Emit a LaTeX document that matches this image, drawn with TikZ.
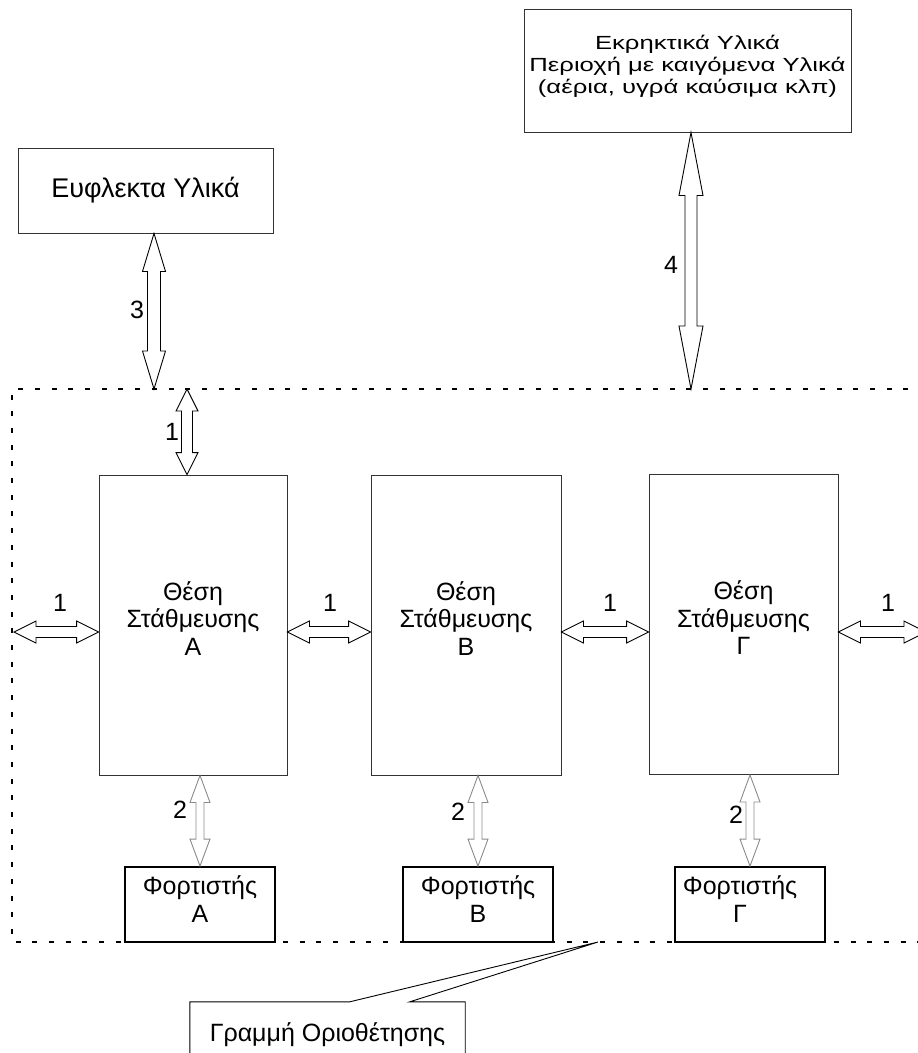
\documentclass[tikz,border=0pt]{standalone}
\usepackage{fontspec}
\setmainfont{Liberation Sans}
\newfontfamily\widefont[FakeStretch=1.35]{Liberation Sans}
\usetikzlibrary{calc}
\definecolor{lineDark}{HTML}{333333}
\definecolor{lineGrey}{HTML}{8A8A8A}
\newcommand{\rpad}[1]{\rule{#1}{0pt}}
\tikzset{
  box/.style={rectangle, draw=lineDark, line width=0.9pt, align=center, inner sep=0pt},
  hazard/.style={box, minimum width=327pt, minimum height=123pt, text depth=12pt,
    font=\widefont\fontsize{19}{22}\selectfont},
  flammable/.style={box, minimum width=255pt, minimum height=85pt,
    font=\fontsize{27}{30}\selectfont},
  station/.style={box, minimum width=188pt, minimum height=300pt, text depth=13pt,
    font=\fontsize{25}{27.5}\selectfont},
  charger/.style={rectangle, draw=black, line width=1.8pt, inner sep=0pt,
    minimum width=150pt, minimum height=75pt, align=center, text depth=11pt,
    font=\fontsize{25}{28}\selectfont},
  note/.style={inner sep=0pt, minimum width=275pt, minimum height=66pt,
    font=\fontsize{25}{28}\selectfont},
  num/.style={inner sep=0pt, font=\fontsize{25}{28}\selectfont},
  border/.style={line width=2pt, dash pattern=on 5pt off 11.7pt},
  callout/.style={draw=black, line width=0.9pt},
  dbl/.style n args={3}{line width=0.9pt, line join=miter, to path={
    -- ($(\tikztostart)!#1!(\tikztotarget)!#2!90:(\tikztotarget)$)
    -- ($(\tikztostart)!#1!(\tikztotarget)!#3!90:(\tikztotarget)$)
    -- ($(\tikztotarget)!#1!(\tikztostart)!#3!-90:(\tikztostart)$)
    -- ($(\tikztotarget)!#1!(\tikztostart)!#2!-90:(\tikztostart)$)
    -- (\tikztotarget)
    -- ($(\tikztotarget)!#1!(\tikztostart)!#2!90:(\tikztostart)$)
    -- ($(\tikztotarget)!#1!(\tikztostart)!#3!90:(\tikztostart)$)
    -- ($(\tikztostart)!#1!(\tikztotarget)!#3!-90:(\tikztotarget)$)
    -- ($(\tikztostart)!#1!(\tikztotarget)!#2!-90:(\tikztotarget)$)
    -- cycle}},
  bigArrow/.style={draw=black, dbl={63pt}{12pt}{6pt}},
  midArrow/.style={draw=black, dbl={38pt}{11.5pt}{6.5pt}},
  smallArrow/.style={draw=black, dbl={22pt}{11pt}{5.5pt}},
  greyArrow/.style={draw=lineGrey, dbl={27pt}{10pt}{4pt}},
}

\begin{document}
\begin{tikzpicture}[x=1pt, y=-1pt]
  \useasboundingbox (0,0) rectangle (918,1053);

  \node[hazard] (ekr) at (687.5,70.5) {Εκρηκτικά Υλικά\\Περιοχή με καιγόμενα Υλικά\\(αέρια, υγρά καύσιμα κλπ)};
  \node[flammable] (euf) at (145.5,190.5) {Ευφλεκτα Υλικά};

  \node[station] (a) at (193,625) {Θέση\\Στάθμευσης\\Α};
  \node[station, minimum width=190pt] (b) at (466,625) {Θέση\\Στάθμευσης\\Β};
  \node[station, minimum width=189pt] (g) at (743.5,624.5) {Θέση\\Στάθμευσης\\Γ};

  \node[charger] (fa) at (200,904.5) {Φορτιστής\\Α};
  \node[charger] (fb) at (478,904.5) {Φορτιστής\\Β};
  \node[charger] (fg) at (750,904.5) {Φορτιστής\rpad{20pt}\\Γ\rpad{20pt}};

  \draw[border] (925,389) -- (12,389) -- (12,942) -- (925,942);

  \coordinate (top3) at (154,389);
  \coordinate (top4) at (691,389);
  \coordinate (top1) at (187,389);
  \coordinate (lft) at (14,632);
  \coordinate (rgt) at (926,632);
  \coordinate (tip) at (598,942);

  \draw[bigArrow] (ekr.south -| top4) to (top4);
  \draw[midArrow] (euf.south -| top3) to (top3);
  \draw[smallArrow] (top1) to (a.north -| top1);
  \draw[smallArrow] (lft) to (a.west |- lft);
  \draw[smallArrow] (a.east |- lft) to (b.west |- lft);
  \draw[smallArrow] (b.east |- lft) to (g.west |- lft);
  \draw[smallArrow] (g.east |- lft) to (rgt);
  \draw[greyArrow] (a.south -| fa) to (fa.north);
  \draw[greyArrow] (b.south -| fb) to (fb.north);
  \draw[greyArrow] (g.south -| fg) to (fg.north);

  \node[num] (n4) at (671,265) {4};
  \node[num] (n3) at (137,310) {3};
  \node[num] (n1t) at (172,432) {1};
  \node[num] (n1l) at (60,603) {1};
  \node[num] (n1ab) at (330,603) {1};
  \node[num] (n1bg) at (610,603) {1};
  \node[num] (n1r) at (888,603) {1};
  \node[num] (n2a) at (180,810) {2};
  \node[num] (n2b) at (458,812) {2};
  \node[num] (n2g) at (736,815) {2};

  \node[note] (lim) at (327.5,1035) {Γραμμή Οριοθέτησης};
  \draw[callout] (lim.south west) -- (lim.north west) -- ($(lim.north west)+(160,0)$)
    -- (tip) -- ($(lim.north west)+(220,0)$) -- (lim.north east) -- (lim.south east);
\end{tikzpicture}
\end{document}
